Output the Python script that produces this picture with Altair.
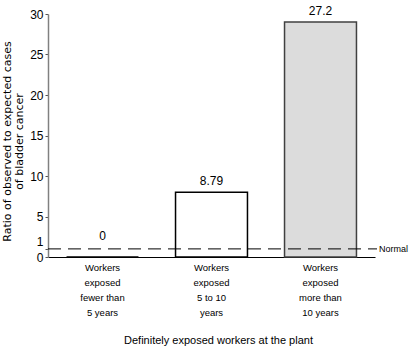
import altair as alt
import pandas as pd

categories = ["Workers|exposed|fewer than|5 years",
              "Workers|exposed|5 to 10|years",
              "Workers|exposed|more than|10 years"]
bar_heights = [0.0, 8.0, 29.0]
value_labels = ["0", "8.79", "27.2"]
fills = ["#ffffff", "#ffffff", "#dcdcdc"]
strokes = ["#000000", "#000000", "#404040"]
y_ticks = [0, 1, 5, 10, 15, 20, 25, 30]
normal_value = [1]

df = pd.DataFrame({"cat": categories, "h": bar_heights, "lbl": value_labels,
                   "fill": fills, "stroke": strokes})
FONT = "Liberation Sans"

x_axis = alt.Axis(title="Definitely exposed workers at the plant",
                  labelExpr="split(datum.label, '|')", labelAngle=0,
                  labelFont=FONT, labelFontSize=9.5, labelLineHeight=15,
                  labelColor="#000", labelPadding=5, ticks=False,
                  domainColor="#000", domainWidth=1.2,
                  titleFont=FONT, titleFontSize=11, titleFontWeight="normal",
                  titleColor="#000", titleY=83, titleX=170,
                  titleBaseline="middle")
y_axis = alt.Axis(values=y_ticks, grid=False, tickSize=3, tickColor="#555",
                  labelOverlap=False, labelBound=False, labelFlush=False,
                  labelOffset={"condition": {"test": "datum.value == 1", "value": -7},
                               "value": 0},
                  labelFont=FONT, labelFontSize=12, labelColor="#000",
                  labelPadding=2, domainColor="#808080", domainWidth=1.5,
                  title=["Ratio of observed to expected cases", "of bladder cancer"],
                  titleFont="DejaVu Sans", titleFontSize=11, titleFontWeight="normal",
                  titleColor="#000", titleAngle=-90, titleBaseline="top",
                  titleX=-47, titleY=127, titleLineHeight=12)
x_scale = alt.Scale(paddingInner=0.34, paddingOuter=0.17)
y_scale = alt.Scale(domain=[0, 30], nice=False, zero=True)

bars = alt.Chart(df).mark_bar(strokeWidth=1.5).encode(
    x=alt.X("cat:N", sort=categories, scale=x_scale, axis=x_axis),
    y=alt.Y("h:Q", scale=y_scale, axis=y_axis),
    fill=alt.Fill("fill:N", scale=None),
    stroke=alt.Stroke("stroke:N", scale=None),
)

labels = alt.Chart(df).transform_calculate(ly="max(datum.h, 1.2)").mark_text(
    baseline="bottom", dy=-4, font=FONT, fontSize=12, color="#000"
).encode(x=alt.X("cat:N", sort=categories, scale=x_scale, axis=x_axis),
         y=alt.Y("ly:Q", scale=y_scale, axis=y_axis), text="lbl:N")

ndf = pd.DataFrame({"v": normal_value})
normal = alt.Chart(ndf).mark_rule(color="#000", strokeDash=[13, 7], strokeWidth=1).encode(
    y=alt.Y("v:Q", scale=y_scale, axis=y_axis), x=alt.value(0), x2=alt.value(329))
normal_text = alt.Chart(ndf).mark_text(align="left", baseline="middle", font=FONT,
                                       fontSize=9, color="#000").encode(
    y=alt.Y("v:Q", scale=y_scale, axis=y_axis), x=alt.value(331), text=alt.value("Normal"))

chart = alt.layer(bars, labels, normal, normal_text).properties(
    width=327, height=243,
    autosize=alt.AutoSizeParams(type="none"),
    padding={"left": 48, "top": 14, "right": 36, "bottom": 97},
).configure(background="#ffffff").configure_view(stroke=None).configure_axisY(labelOverlap=False)

chart.save("out.html", embed_options={"renderer": "svg", "actions": False})
